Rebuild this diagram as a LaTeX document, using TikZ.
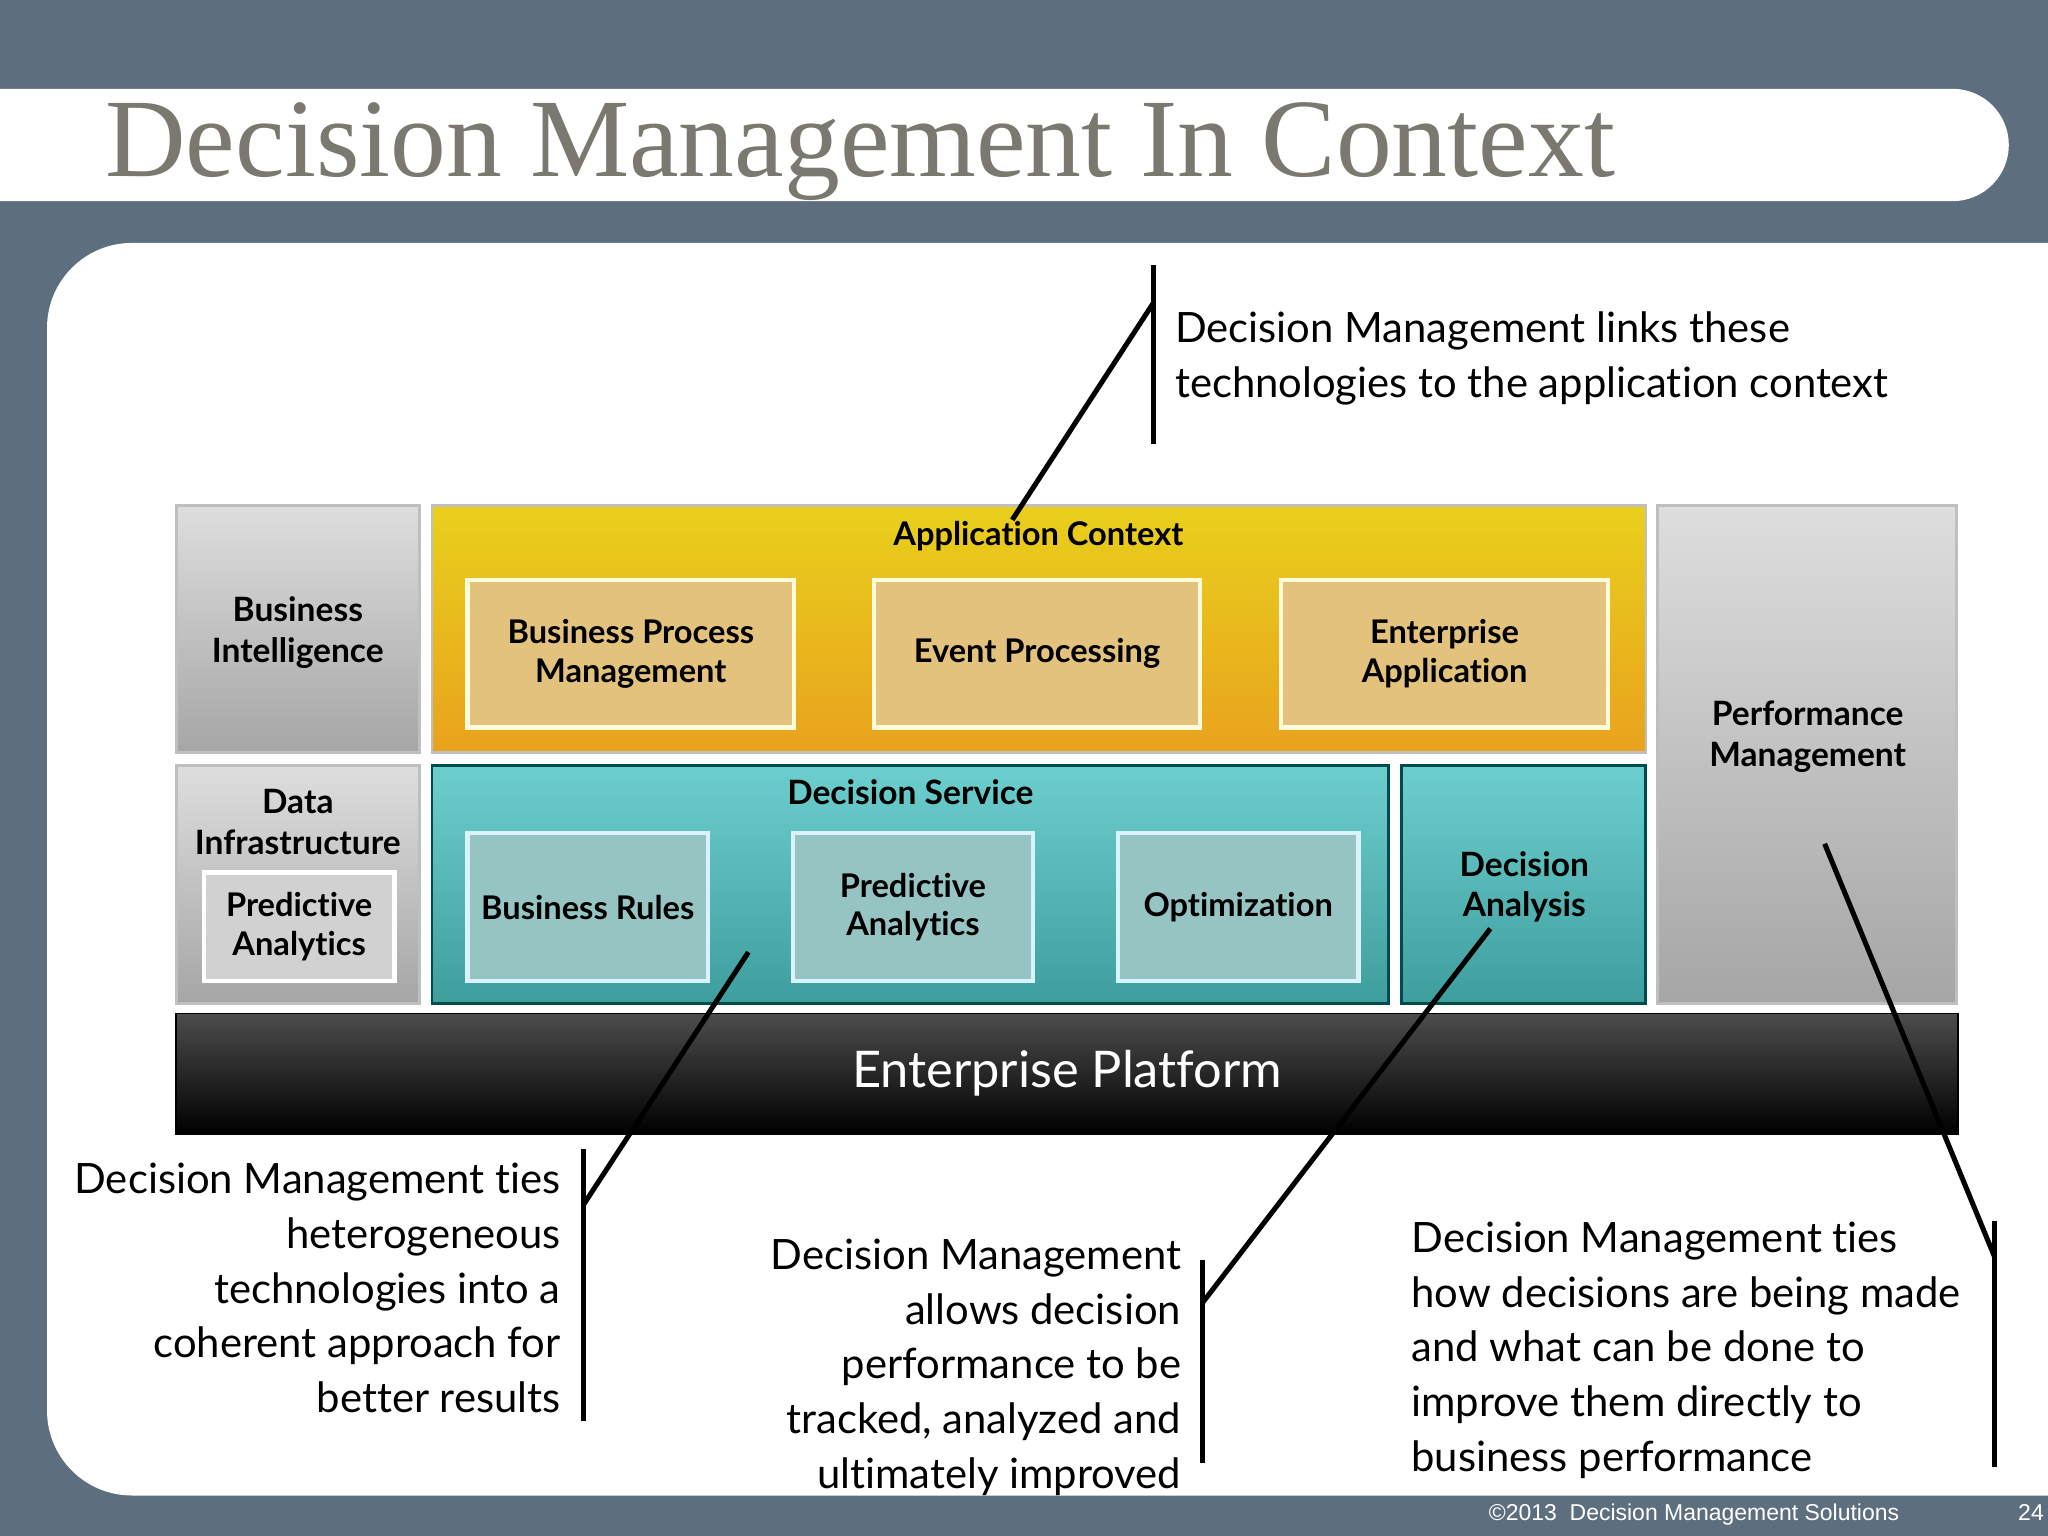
\documentclass[tikz,border=0pt]{standalone}
\usepackage{fontspec}
\setmainfont[RawFeature=-liga]{Lato}
\newfontfamily\titlefont{Liberation Serif}
\newfontfamily\footfont{Liberation Sans}
\definecolor{slate}{HTML}{5D6E7E}
\definecolor{titlegray}{HTML}{7A786F}
\definecolor{tanc}{HTML}{E2C27C}
\definecolor{aquac}{HTML}{96C4C3}
\definecolor{yelt}{HTML}{E9D01C}
\definecolor{yelb}{HTML}{E9A21E}
\definecolor{tealt}{HTML}{6DCFCD}
\definecolor{tealbb}{HTML}{3E9E9E}
\begin{document}
\begin{tikzpicture}[x=0.01cm,y=-0.01cm,
  grayb/.style={draw=black!25,line width=0.6pt,top color=black!13,bottom color=black!35,font=\bfseries\fontsize{7.3}{8.9}\selectfont,align=center,inner sep=0pt},
  yellowb/.style={draw=black!25,line width=0.6pt,top color=yelt,bottom color=yelb},
  tealb/.style={draw=teal!60!black,line width=0.6pt,top color=tealt,bottom color=tealbb,font=\bfseries\fontsize{7.3}{8.9}\selectfont,align=center,inner sep=0pt},
  tanbox/.style={draw=white!85!yellow,line width=0.9pt,fill=tanc,font=\bfseries\fontsize{7.1}{8.4}\selectfont,align=center,inner sep=0pt},
  aquabox/.style={draw=white!85!cyan,line width=0.9pt,fill=aquac,font=\bfseries\fontsize{7.1}{8.4}\selectfont,align=center,inner sep=0pt},
  gbox/.style={draw=white,line width=0.9pt,fill=black!18,font=\bfseries\fontsize{7.1}{8.4}\selectfont,align=center,inner sep=0pt},
  call/.style={font=\fontsize{9.1}{11.9}\selectfont,inner sep=0pt},
  cline/.style={line width=1.1pt}]
\useasboundingbox (0,0) rectangle (1568,1176);
\fill[slate] (0,0) rectangle (1568,1176);
\begin{scope}
\clip (0,0) rectangle (1568,1176);
\fill[white,rounded corners=0.43cm] (-100,68) rectangle (1538,154);
\fill[white,rounded corners=0.65cm] (36,186) rectangle (1700,1145);
\end{scope}
\node[anchor=base west,font=\titlefont\fontsize{24.3}{24}\selectfont,text=titlegray,inner sep=0pt] (title) at (80,135) {Decision Management In Context};
\node[font=\footfont\fontsize{5}{6}\selectfont,text=white,anchor=base] (copy) at (1297,1164) {©2013\ \ Decision Management Solutions};
\node[font=\footfont\fontsize{5}{6}\selectfont,text=white,anchor=base] (pg) at (1555,1164) {24};

% boxes
\node[grayb,minimum width=1.86cm,minimum height=1.89cm] (bi) at (228,481.5) {};
\node[font=\bfseries\fontsize{7.3}{8.9}\selectfont,align=center] (bit) at (228,484) {Business\\Intelligence};
\node[yellowb,minimum width=9.29cm,minimum height=1.89cm] (ac) at (795.5,481.5) {};
\node[font=\bfseries\fontsize{7.1}{8.6}\selectfont,anchor=base] (act) at (795,418) {Application Context};
\node[tanbox,minimum width=2.5cm,minimum height=1.13cm] (bpm) at (483,500.5) {Business Process\\Management};
\node[tanbox,minimum width=2.5cm,minimum height=1.13cm] (ep) at (794,500.5) {Event Processing};
\node[tanbox,minimum width=2.5cm,minimum height=1.13cm] (ea) at (1106,500.5) {Enterprise\\Application};

\node[grayb,minimum width=1.86cm,minimum height=1.82cm] (di) at (228,677) {};
\node[font=\bfseries\fontsize{7.3}{8.9}\selectfont,align=center,anchor=north] (dit) at (228,592) {Data\\Infrastructure};
\node[gbox,minimum width=1.46cm,minimum height=0.83cm] (pa1) at (229,709.5) {Predictive\\Analytics};

\node[tealb,minimum width=7.32cm,minimum height=1.82cm] (ds) at (697,677) {};
\node[font=\bfseries\fontsize{7.3}{8.6}\selectfont,anchor=base] (dst) at (697,616) {Decision Service};
\node[aquabox,minimum width=1.84cm,minimum height=1.13cm] (br) at (450,694.5) {Business Rules};
\node[aquabox,minimum width=1.84cm,minimum height=1.13cm] (pa2) at (699,694.5) {Predictive\\Analytics};
\node[aquabox,minimum width=1.84cm,minimum height=1.13cm] (opt) at (948,694.5) {Optimization};
\node[tealb,minimum width=1.87cm,minimum height=1.82cm] (da) at (1166.5,677) {};
\node[font=\bfseries\fontsize{7.3}{8.9}\selectfont,align=center] (dat) at (1167,679) {Decision\\Analysis};

\node[grayb,minimum width=2.29cm,minimum height=3.81cm] (pm) at (1383.5,577.5) {};
\node[font=\bfseries\fontsize{7.3}{8.9}\selectfont,align=center] (pmt) at (1384,564) {Performance\\Management};

\node[draw=black,top color=black!70,bottom color=black,minimum width=13.64cm,minimum height=0.92cm,text=white,font=\fontsize{11}{13}\selectfont] (plat) at (817,822) {Enterprise Platform};

% callouts
\node[call,anchor=north west,align=left] (c1) at (899,238) {Decision Management links these\\technologies to the application context};
\coordinate (v1a) at (883,203); \coordinate (v1b) at (883,340); \coordinate (v1c) at (883,232); \coordinate (t1) at (775,398);
\draw[cline] (v1a) -- (v1b); \draw[cline] (v1c) -- (t1);

\node[call,anchor=north east,align=right] (c2) at (430,890) {Decision Management ties\\heterogeneous\\technologies into a\\coherent approach for\\better results};
\coordinate (v2a) at (447,880); \coordinate (v2b) at (447,1088); \coordinate (v2c) at (447,922); \coordinate (t2) at (573,729);
\draw[cline] (v2a) -- (v2b); \draw[cline] (v2c) -- (t2);

\node[call,anchor=north east,align=right] (c3) at (905,948) {Decision Management\\allows decision\\performance to be\\tracked, analyzed and\\ultimately improved};
\coordinate (v3a) at (921,965); \coordinate (v3b) at (921,1120); \coordinate (v3c) at (921,997); \coordinate (t3) at (1141,711);
\draw[cline] (v3a) -- (v3b); \draw[cline] (v3c) -- (t3);

\node[call,anchor=north west,align=left] (c4) at (1080,935) {Decision Management ties\\how decisions are being made\\and what can be done to\\improve them directly to\\business performance};
\coordinate (v4a) at (1527,935); \coordinate (v4b) at (1527,1123); \coordinate (v4c) at (1527,962); \coordinate (t4) at (1397,646);
\draw[cline] (v4a) -- (v4b); \draw[cline] (v4c) -- (t4);
\end{tikzpicture}
\end{document}
